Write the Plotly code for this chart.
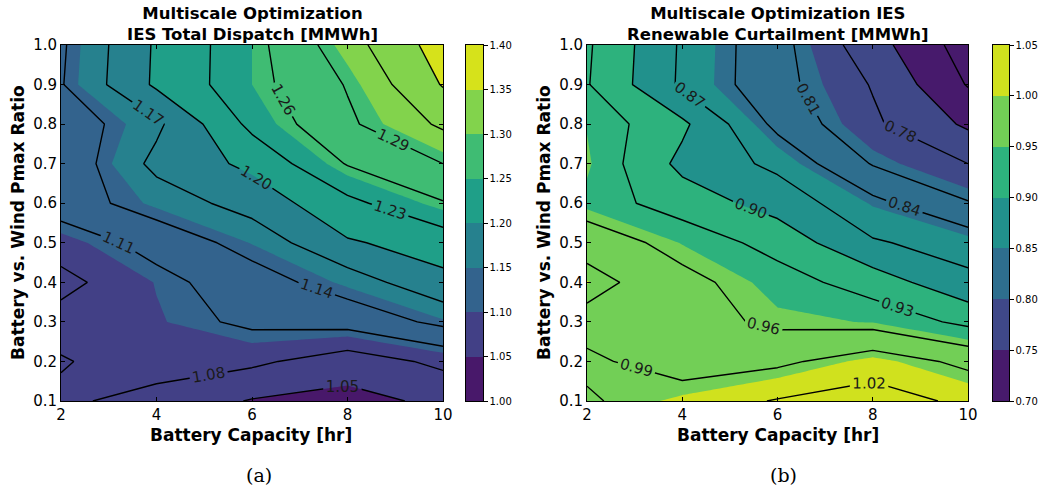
import plotly.graph_objects as go

W, H = 1042, 488

# Grid of the parameter sweep
battery_hours = [2, 4, 6, 8, 10]
pmax_ratio = [0.1, 0.2, 0.3, 0.4, 0.5, 0.6, 0.7, 0.8, 0.9, 1.0]

# Rows follow pmax_ratio (0.1 -> 1.0), columns follow battery_hours
total_dispatch = [
    [1.085, 1.070, 1.048, 1.041, 1.056],
    [1.078, 1.093, 1.086, 1.064, 1.087],
    [1.090, 1.098, 1.116, 1.121, 1.147],
    [1.072, 1.101, 1.127, 1.154, 1.193],
    [1.092, 1.121, 1.151, 1.197, 1.212],
    [1.125, 1.154, 1.182, 1.222, 1.258],
    [1.118, 1.178, 1.207, 1.262, 1.290],
    [1.120, 1.164, 1.238, 1.285, 1.325],
    [1.138, 1.205, 1.250, 1.292, 1.352],
    [1.136, 1.204, 1.250, 1.308, 1.364],
]

renewable_curtailment = [
    [0.987, 1.004, 1.022, 1.033, 1.014],
    [0.995, 0.977, 0.984, 1.006, 0.983],
    [0.980, 0.972, 0.954, 0.949, 0.923],
    [1.001, 0.969, 0.943, 0.916, 0.877],
    [0.978, 0.949, 0.919, 0.873, 0.858],
    [0.945, 0.916, 0.888, 0.848, 0.812],
    [0.953, 0.892, 0.863, 0.808, 0.780],
    [0.949, 0.906, 0.832, 0.785, 0.745],
    [0.932, 0.865, 0.820, 0.778, 0.718],
    [0.934, 0.866, 0.820, 0.762, 0.706],
]

# (start, end, step) of filled bands and of labelled lines
dispatch_fill = (1.00, 1.40, 0.05)
dispatch_lines = (1.05, 1.35, 0.03)
curtail_fill = (0.70, 1.05, 0.05)
curtail_lines = (0.72, 1.02, 0.03)

# viridis sampled at the centre of each band
dispatch_colors = ["#48186a", "#424086", "#33638d", "#26818e",
                   "#1f9f88", "#3fbc73", "#82d34c", "#d6e21b"]
curtail_colors = ["#471a6c", "#3f4888", "#2e6e8e", "#21918c",
                  "#2db27d", "#72cf56", "#d0e11e"]

FONT = "DejaVu Sans"


def contour_steps(colors):
    # plotly spreads n bands over n+1 level slots; give every band a flat step
    n = len(colors)
    m = n + 1
    scale = []
    for k, c in enumerate(colors):
        lo = 0.0 if k == 0 else (k + 0.5) / m
        hi = 1.0 if k == n - 1 else (k + 1.5) / m
        scale += [[lo, c], [hi, c]]
    return scale


def bar_steps(colors):
    n = len(colors)
    scale = []
    for k, c in enumerate(colors):
        scale += [[k / n, c], [(k + 1) / n, c]]
    return scale


def fx(p):
    return p / W


def fy(p):
    return 1 - p / H


fig = go.Figure()

panels = [
    dict(z=total_dispatch, fill=dispatch_fill, lines=dispatch_lines,
         colors=dispatch_colors, ax=("x", "y"), cb=("x2", "y2")),
    dict(z=renewable_curtailment, fill=curtail_fill, lines=curtail_lines,
         colors=curtail_colors, ax=("x3", "y3"), cb=("x4", "y4")),
]

for p in panels:
    lo, hi, st = p["fill"]
    fig.add_trace(go.Contour(
        x=battery_hours, y=pmax_ratio, z=p["z"],
        autocontour=False,
        contours=dict(start=lo, end=hi, size=st, coloring="fill", showlines=False),
        colorscale=contour_steps(p["colors"]),
        line=dict(width=0, smoothing=0),
        showscale=False, hoverinfo="skip",
        xaxis=p["ax"][0], yaxis=p["ax"][1],
    ))
    l0, l1, ls = p["lines"]
    fig.add_trace(go.Contour(
        x=battery_hours, y=pmax_ratio, z=p["z"],
        autocontour=False,
        contours=dict(start=l0, end=l1, size=ls, coloring="none",
                      showlabels=True, labelformat=".2f",
                      labelfont=dict(family=FONT, size=15, color="#1a1a1a")),
        line=dict(color="black", width=1.4, smoothing=0),
        showscale=False, hoverinfo="skip",
        xaxis=p["ax"][0], yaxis=p["ax"][1],
    ))
    # discrete colour bar drawn as a one-column heatmap
    n = len(p["colors"])
    edges = [round(lo + k * st, 4) for k in range(n + 1)]
    centers = [[round(lo + (k + 0.5) * st, 4)] for k in range(n)]
    fig.add_trace(go.Heatmap(
        x=[0, 1], y=edges, z=centers, zmin=lo, zmax=hi,
        colorscale=bar_steps(p["colors"]), showscale=False, hoverinfo="skip",
        xaxis=p["cb"][0], yaxis=p["cb"][1],
    ))

main_ax = dict(showline=True, linecolor="black", linewidth=1, mirror="allticks",
               ticks="inside", ticklen=4, tickwidth=1, tickcolor="black",
               tickfont=dict(family=FONT, size=15, color="black"),
               showgrid=False, zeroline=False, automargin=False)
xt = dict(range=[2, 10], tickvals=battery_hours,
          ticktext=[str(v) for v in battery_hours])
yt = dict(range=[0.1, 1.0], tickvals=pmax_ratio,
          ticktext=[f"{v:.1f}" for v in pmax_ratio])

ydom = [fy(401), fy(45)]


def cb_axes(lo, hi, st):
    n = int(round((hi - lo) / st))
    vals = [round(lo + k * st, 4) for k in range(n + 1)]
    xa = dict(range=[0, 1], showticklabels=False, ticks="", showline=True,
              linecolor="black", linewidth=1, mirror=True, showgrid=False,
              zeroline=False, automargin=False)
    ya = dict(range=[lo, hi], side="right", tickvals=vals,
              ticktext=[f"{v:.2f}" for v in vals], ticks="outside", ticklen=3.5,
              tickwidth=1, tickcolor="black", showline=True, linecolor="black",
              linewidth=1, mirror=True, showgrid=False, zeroline=False,
              automargin=False,
              tickfont=dict(family=FONT, size=10, color="black"))
    return xa, ya


cbx1, cby1 = cb_axes(*dispatch_fill)
cbx2, cby2 = cb_axes(*curtail_fill)

fig.update_layout(
    width=W, height=H, margin=dict(l=0, r=0, t=0, b=0, autoexpand=False),
    paper_bgcolor="white", plot_bgcolor="white", showlegend=False,
    hovermode=False,
    xaxis=dict(domain=[fx(61), fx(443)], anchor="y", **xt, **main_ax),
    yaxis=dict(domain=ydom, anchor="x", **yt, **main_ax),
    xaxis2=dict(domain=[fx(466), fx(483)], anchor="y2", **cbx1),
    yaxis2=dict(domain=ydom, anchor="x2", **cby1),
    xaxis3=dict(domain=[fx(587), fx(968)], anchor="y3", **xt, **main_ax),
    yaxis3=dict(domain=ydom, anchor="x3", **yt, **main_ax),
    xaxis4=dict(domain=[fx(993), fx(1009)], anchor="y4", **cbx2),
    yaxis4=dict(domain=ydom, anchor="x4", **cby2),
)


def note(text, x, y, size, angle=0, family=FONT):
    fig.add_annotation(text=text, x=fx(x), y=fy(y), xref="paper", yref="paper",
                       xanchor="center", yanchor="middle", showarrow=False,
                       textangle=angle,
                       font=dict(family=family, size=size, color="black"))


# panel titles (two lines each)
note("<b>Multiscale Optimization<br>IES Total Dispatch [MMWh]</b>", 252, 24, 16.5)
note("<b>Multiscale Optimization IES<br>Renewable Curtailment [MMWh]</b>",
     777.5, 24, 16.5)

# axis titles
note("<b>Battery Capacity [hr]</b>", 251, 434.5, 17)
note("<b>Battery Capacity [hr]</b>", 777.5, 434.5, 17)
note("<b>Battery vs. Wind Pmax Ratio</b>", 18, 223, 17, angle=-90)
note("<b>Battery vs. Wind Pmax Ratio</b>", 544, 223, 17, angle=-90)

# sub-figure captions
note("(a)", 258.5, 475, 19, family="DejaVu Serif")
note("(b)", 783, 475, 19, family="DejaVu Serif")

fig.write_html("out.html")
